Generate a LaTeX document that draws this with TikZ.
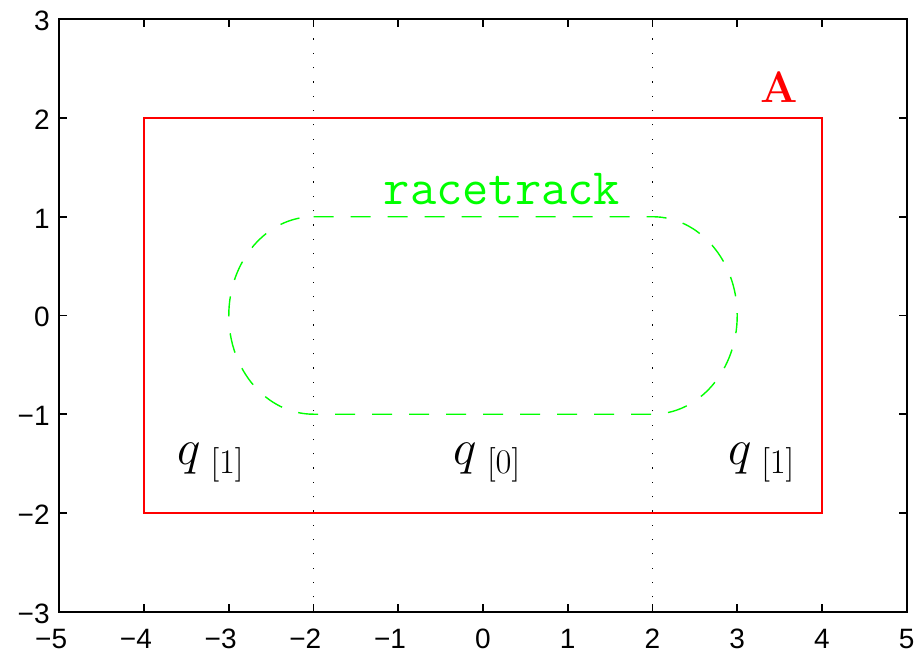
\documentclass[tikz,border=0pt]{standalone}
\usepackage{fontspec}
\newfontfamily\axisfont{Liberation Sans}
\begin{document}
\begin{tikzpicture}[x=42.37pt,y=49.37pt,
  axisline/.style={line width=0.9pt},
  ticklabel/.style={inner sep=0pt,font=\axisfont\fontsize{14}{16}\selectfont},
  divider/.style={line width=0.6pt,dash pattern=on 0.6pt off 6.55pt},
  racedash/.style={green,line width=0.7pt,dash pattern=on 10pt off 8.5pt},
  regionlabel/.style={inner sep=0pt,anchor=base,font=\fontsize{23}{28}\selectfont}]
\useasboundingbox (-5.700,-3.459) rectangle (5.145,3.195);
% dotted dividers
\draw[divider] (-2,-3) -- (-2,3);
\draw[divider] (2,-3) -- (2,3);
% region A
\draw[red,line width=0.6pt] (-4,-2) rectangle (4,2);
\node[red,inner sep=0pt,anchor=base,font=\fontsize{22}{26}\selectfont\bfseries] (A) at (3.50,2.152) {A};
% racetrack
\draw[racedash] (-2,1) -- (2,1) arc[start angle=90,end angle=-90,radius=1]
  -- (-2,-1) arc[start angle=270,end angle=90,radius=1] -- cycle;
\node[green,inner sep=0pt,anchor=base,font=\fontsize{25.5}{30}\selectfont\ttfamily] (racetrack) at (0.224,1.119) {racetrack};
% region labels
\node[regionlabel] (qleft) at (-3.21,-1.514) {$q_{\,\,[1]}$};
\node[regionlabel] (qmid) at (0.054,-1.514) {$q_{\,\,[0]}$};
\node[regionlabel] (qright) at (3.29,-1.514) {$q_{\,\,[1]}$};
% axes box and ticks
\draw[axisline] (-5,-3) rectangle (5,3);
\foreach \x in {-4,...,4} {
  \draw[axisline] (\x,-3) -- ++(0,4pt);
  \draw[axisline] (\x,3) -- ++(0,-4pt);
}
\foreach \y in {-2,...,2} {
  \draw[axisline] (-5,\y) -- ++(4pt,0);
  \draw[axisline] (5,\y) -- ++(-4pt,0);
}
\foreach \x in {-5,...,-1} {
  \pgfmathtruncatemacro{\ax}{-\x}
  \node[ticklabel,anchor=base] (xl\ax) at ([yshift=-18.6pt]\x,-3) {\llap{−}\ax};
}
\foreach \x in {0,...,5}
  \node[ticklabel,anchor=base] (xp\x) at ([yshift=-18.6pt]\x,-3) {\x};
\foreach \y in {-3,...,3}
  \node[ticklabel,anchor=base east] (yl\y) at ([xshift=-4.65pt,yshift=-5.75pt]-5,\y) {\ifnum\y<0 −\fi\pgfmathparse{int(abs(\y))}\pgfmathresult};
\end{tikzpicture}
\end{document}
